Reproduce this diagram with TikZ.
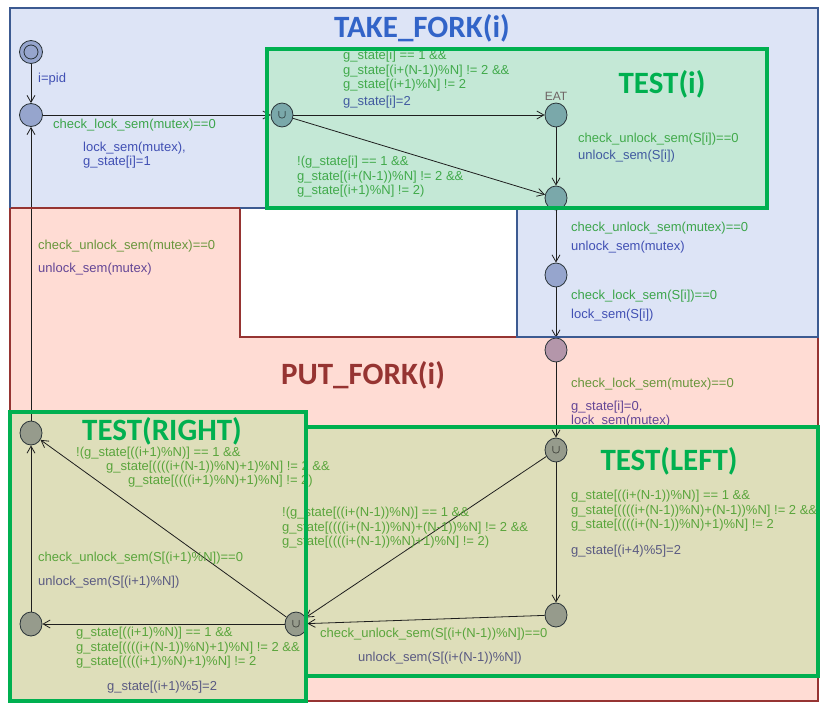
\documentclass[tikz,border=0pt]{standalone}
\usepackage{fontspec}
\setmainfont{Liberation Sans}
\newfontfamily\titlefont{Carlito}
\usetikzlibrary{shapes, arrows.meta}

\definecolor{blueregion}{RGB}{221,228,246}
\definecolor{blueborder}{RGB}{60,90,145}
\definecolor{redregion}{RGB}{255,220,212}
\definecolor{redborder}{RGB}{150,52,50}
\definecolor{testgreen}{RGB}{196,232,214}
\definecolor{testkhaki}{RGB}{222,222,186}
\definecolor{greenborder}{RGB}{0,176,80}
\definecolor{titleblue}{RGB}{50,100,200}
\definecolor{titlered}{RGB}{150,52,50}
\definecolor{locline}{RGB}{40,50,55}
\definecolor{edgeline}{RGB}{30,30,30}
\definecolor{locblue}{RGB}{150,165,205}
\definecolor{locteal}{RGB}{122,168,170}
\definecolor{locmauve}{RGB}{180,150,170}
\definecolor{locgray}{RGB}{150,155,140}
\definecolor{guardblue}{RGB}{60,165,75}
\definecolor{assignblue}{RGB}{65,80,180}
\definecolor{guardtest}{RGB}{65,170,75}
\definecolor{assigntest}{RGB}{65,90,160}
\definecolor{guardred}{RGB}{105,150,60}
\definecolor{assignred}{RGB}{100,70,150}
\definecolor{guardkhaki}{RGB}{90,165,60}
\definecolor{assignkhaki}{RGB}{90,90,130}
\definecolor{namegray}{RGB}{110,100,100}

\tikzstyle{loc} =
        [
                ellipse,
                draw = locline,
                line width = 0.8pt,
                minimum width = 22pt,
                minimum height = 24pt,
                inner sep = 0pt,
                font = \large
        ]
\tikzstyle{line} =
        [
                draw = edgeline,
                line width = 0.8pt,
                -{Straight Barb[length = 7pt, width = 8pt]}
        ]
\tikzstyle{label} =
        [
                anchor = west,
                inner sep = 0pt,
                align = left,
                font = \fontsize{13}{14.5}\selectfont
        ]
\tikzstyle{title} =
        [
                inner sep = 0pt,
                font = \titlefont\bfseries\fontsize{31}{31}\selectfont
        ]
\tikzstyle{region} =
        [
                line width = 2.8pt,
                line join = miter
        ]
\tikzstyle{testbox} =
        [
                draw = greenborder,
                line width = 3.2pt
        ]

\begin{document}
\begin{tikzpicture}[x = 1pt, y = -1pt, node distance = 75pt, auto]
        \useasboundingbox (0,0) rectangle (829,709);

        % regions
        \fill [blueregion] (10,8) -- (818,8) -- (818,337) -- (517,337) -- (517,208) -- (10,208) -- cycle;
        \fill [redregion] (10,208) -- (240,208) -- (240,337) -- (818,337) -- (818,701) -- (10,701) -- cycle;
        \fill [testgreen] (267,49) rectangle (767,208);
        \fill [testkhaki] (10,412) rectangle (306,701);
        \fill [testkhaki] (306,427) rectangle (818,676);

        % locations
        \node [loc, fill = locblue, minimum width = 23pt, minimum height = 23pt] (start) at (31,52) {};
        \draw [locline, line width = 0.8pt] (start) circle (7pt);
        \node [loc, fill = locblue, below of = start, node distance = 63pt, minimum width = 23pt, minimum height = 23pt] (think) {};
        \node [loc, fill = locteal, right of = think, node distance = 251pt] (test) {$\cup$};
        \node [loc, fill = locteal, right of = test, node distance = 274pt] (eat) {};
        \node [loc, fill = locteal, below of = eat, node distance = 83pt] (eaten) {};
        \node [loc, fill = locblue, below of = eaten, node distance = 77pt] (free) {};
        \node [loc, fill = locmauve, below of = free, node distance = 75pt] (put) {};
        \node [loc, fill = locgray, below of = put, node distance = 100pt] (left) {$\cup$};
        \node [loc, fill = locgray, below of = left, node distance = 165pt] (leftdone) {};
        \node [loc, fill = locgray] (right) at (296,624) {$\cup$};
        \node [loc, fill = locgray] (rightdone) at (31,624) {};
        \node [loc, fill = locgray] (back) at (31,433) {};
        \node [text = namegray, inner sep = 0pt, font = \fontsize{12}{12}\selectfont, above of = eat, node distance = 19pt] (eatname) {EAT};

        % edges
        \path [line] (start) -- (think);
        \path [line] (think) -- (test);
        \path [line] (test) -- (eat);
        \path [line] (test) -- (eaten);
        \path [line] (eat) -- (eaten);
        \path [line] (eaten) -- (free);
        \path [line] (free) -- (put);
        \path [line] (put) -- (left);
        \path [line] (left) -- (leftdone);
        \path [line] (left) -- (right);
        \path [line] (leftdone) -- (right);
        \path [line] (right) -- (rightdone);
        \path [line] (right) -- (back);
        \path [line] (rightdone) -- (back);
        \path [line] (back) -- (think);

        % labels of TAKE_FORK(i)
        \node [label, text = assignblue] (pid) at (38,79) {i=pid};
        \node [label, text = guardblue] (lockg) at (53,125) {check\_lock\_sem(mutex)==0};
        \node [label, text = assignblue] (locka) at (83,155) {lock\_sem(mutex),\\g\_state[i]=1};
        \node [label, text = guardtest] (eatg) at (343,71) {g\_state[i] == 1 \&\&\\g\_state[(i+(N-1))\%N] != 2 \&\&\\g\_state[(i+1)\%N] != 2};
        \node [label, text = assigntest] (eata) at (343,102) {g\_state[i]=2};
        \node [label, text = guardtest] (noeatg) at (297,177) {!(g\_state[i] == 1 \&\&\\g\_state[(i+(N-1))\%N] != 2 \&\&\\g\_state[(i+1)\%N] != 2)};
        \node [label, text = guardtest] (eatdoneg) at (578,139) {check\_unlock\_sem(S[i])==0};
        \node [label, text = assigntest] (eatdonea) at (578,156) {unlock\_sem(S[i])};
        \node [label, text = guardblue] (freeg) at (571,228) {check\_unlock\_sem(mutex)==0};
        \node [label, text = assignblue] (freea) at (571,247) {unlock\_sem(mutex)};
        \node [label, text = guardblue] (putg) at (571,296) {check\_lock\_sem(S[i])==0};
        \node [label, text = assignblue] (puta) at (571,315) {lock\_sem(S[i])};

        % labels of PUT_FORK(i)
        \node [label, text = guardred] (leftg) at (571,384) {check\_lock\_sem(mutex)==0};
        \node [label, text = assignred] (lefta) at (571,414) {g\_state[i]=0,\\lock\_sem(mutex)};
        \node [label, text = guardred] (backg) at (38,246) {check\_unlock\_sem(mutex)==0};
        \node [label, text = assignred] (backa) at (38,269) {unlock\_sem(mutex)};

        % labels of TEST(LEFT)
        \node [label, text = guardkhaki] (leftokg) at (571,511) {g\_state[((i+(N-1))\%N)] == 1 \&\&\\g\_state[((((i+(N-1))\%N)+(N-1))\%N] != 2 \&\&\\g\_state[((((i+(N-1))\%N)+1)\%N] != 2};
        \node [label, text = assignkhaki] (leftoka) at (571,551) {g\_state[(i+4)\%5]=2};
        \node [label, text = guardkhaki] (leftnog) at (282,528) {!(g\_state[((i+(N-1))\%N)] == 1 \&\&\\g\_state[((((i+(N-1))\%N)+(N-1))\%N] != 2 \&\&\\g\_state[((((i+(N-1))\%N)+1)\%N] != 2)};
        \node [label, text = guardkhaki] (leftdoneg) at (320,634) {check\_unlock\_sem(S[(i+(N-1))\%N])==0};
        \node [label, text = assignkhaki] (leftdonea) at (358,658) {unlock\_sem(S[(i+(N-1))\%N])};

        % labels of TEST(RIGHT)
        \node [label, text = guardkhaki] (rightokg) at (76,648) {g\_state[((i+1)\%N)] == 1 \&\&\\g\_state[((((i+(N-1))\%N)+1)\%N] != 2 \&\&\\g\_state[((((i+1)\%N)+1)\%N] != 2};
        \node [label, text = assignkhaki] (rightoka) at (107,687) {g\_state[(i+1)\%5]=2};
        \node [label, text = guardkhaki] (rightnog1) at (76,453) {!(g\_state[((i+1)\%N)] == 1 \&\&};
        \node [label, text = guardkhaki] (rightnog2) at (106,467) {g\_state[((((i+(N-1))\%N)+1)\%N] != 2 \&\&};
        \node [label, text = guardkhaki] (rightnog3) at (128,481) {g\_state[((((i+1)\%N)+1)\%N] != 2)};
        \node [label, text = guardkhaki] (rightdoneg) at (38,558) {check\_unlock\_sem(S[(i+1)\%N])==0};
        \node [label, text = assignkhaki] (rightdonea) at (38,582) {unlock\_sem(S[(i+1)\%N])};

        % borders
        \draw [region, redborder] (10,208) -- (240,208) -- (240,337) -- (818,337) -- (818,701) -- (10,701) -- cycle;
        \draw [region, blueborder] (10,208) -- (10,8) -- (818,8) -- (818,337) -- (517,337) -- (517,208) -- (240,208);
        \draw [testbox] (267,49) rectangle (767,208);
        \draw [testbox] (10,412) rectangle (306,701);
        \draw [testbox] (306,427) rectangle (818,676);

        % titles
        \node [title, text = titleblue] (takefork) at (422,28) {TAKE\_FORK(i)};
        \node [title, text = titlered] (putfork) at (363,375) {PUT\_FORK(i)};
        \node [title, text = greenborder] (testi) at (662,84) {TEST(i)};
        \node [title, text = greenborder] (testright) at (162,431) {TEST(RIGHT)};
        \node [title, text = greenborder] (testleft) at (669,461) {TEST(LEFT)};
\end{tikzpicture}
\end{document}
